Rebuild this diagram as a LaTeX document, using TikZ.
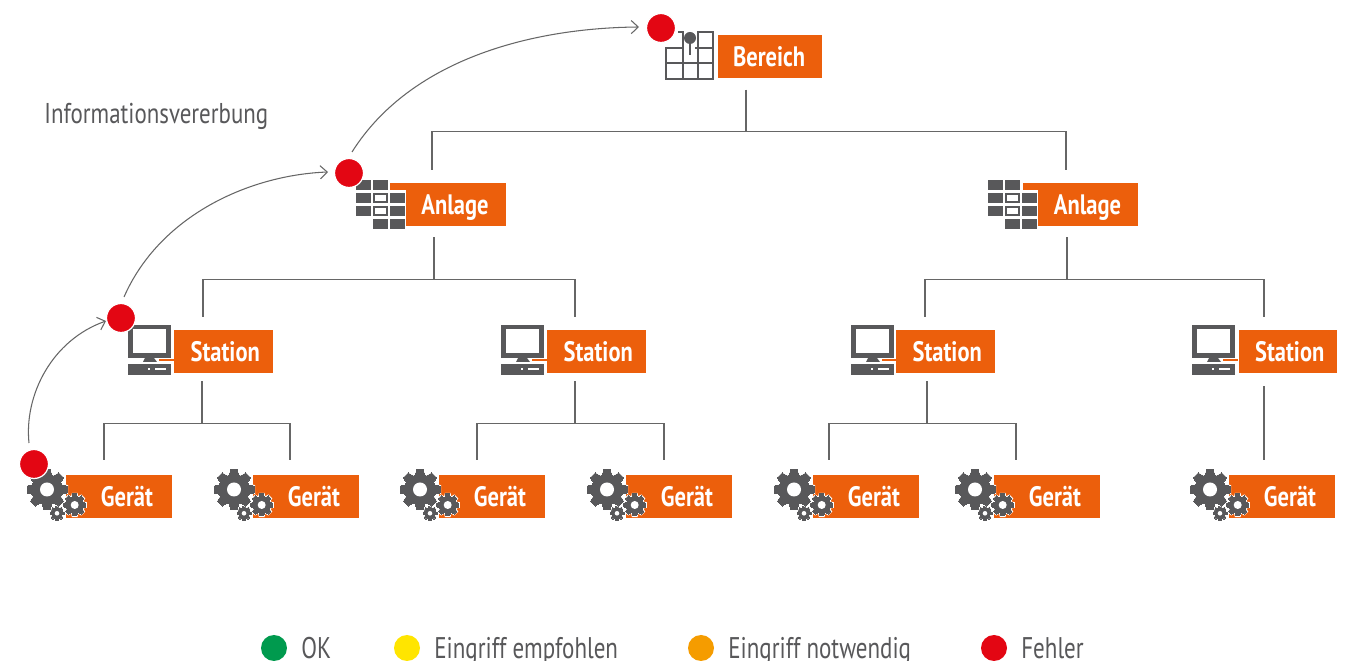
\documentclass[tikz,border=0pt]{standalone}
\usepackage{fontspec}
\usepackage{tikz}
\usetikzlibrary{arrows.meta}
\setmainfont[FakeStretch=0.8]{PT Sans}
\newfontfamily\legendfont[FakeStretch=0.77]{PT Sans}
\definecolor{boxorange}{HTML}{EC5F0C}
\definecolor{icongray}{HTML}{58585A}
\definecolor{linegray}{HTML}{666666}
\definecolor{dotred}{HTML}{E30613}
\definecolor{dotgreen}{HTML}{009A4E}
\definecolor{dotyellow}{HTML}{FFE500}
\definecolor{dotorange}{HTML}{F59C00}
% one gear: centre, outer radius, hole radius, wheel colour
\newcommand{\gearshape}[2]{
\foreach \a in {0,45,...,315}
  \filldraw[rotate=\a+22.5+67.5] ({0.7*#2},{-0.24*#2}) -- (#2,{-0.17*#2}) -- (#2,{0.17*#2}) -- ({0.7*#2},{0.24*#2}) -- cycle;
\filldraw (#1) circle ({0.76*#2});
}
\newcommand{\gearwheel}[3]{
\begin{scope}[shift={(#1)}]
\begin{scope}[white,line width=1.3pt]
\gearshape{0,0}{#2}
\end{scope}
\begin{scope}[icongray,line width=0pt]
\gearshape{0,0}{#2}
\end{scope}
\fill[white] (0,0) circle (#3);
\end{scope}
}
\tikzset{
  box/.style={fill=boxorange,text=white,font=\bfseries\fontsize{16}{18}\selectfont,minimum height=0.86cm,inner sep=0pt,text height=11.2pt,text depth=0pt},
  reddot/.style={circle,fill=dotred,draw=white,line width=0.7pt,minimum size=0.58cm,inner sep=0pt},
  legdot/.style={circle,minimum size=0.52cm,inner sep=0pt},
  headtext/.style={anchor=base west,text=icongray,inner sep=0pt,font=\fontsize{16.3}{18}\selectfont},
  legtext/.style={anchor=base west,text=icongray,inner sep=0pt,font=\legendfont\fontsize{17}{18}\selectfont},
  tree/.style={linegray,line width=0.7pt},
  flow/.style={linegray,line width=0.6pt,-{Straight Barb[length=4pt,width=7.5pt]}},
  geraeticon/.pic={
    \gearwheel{-9,38.3}{7}{2.3}
    \gearwheel{8.7,30}{11}{4}
    \gearwheel{-19,14.5}{20}{7}
  },
  stationicon/.pic={
    \fill[boxorange] (31,34.5) rectangle (46,36.5);
    \fill[icongray] (0,0) rectangle (43,33);
    \fill[white] (5,4) rectangle (38,28);
    \fill[icongray] (15,37) -- (17,33) -- (26,33) -- (29,37) -- cycle;
    \fill[icongray] (0,39) rectangle (43,50);
    \fill[white] (19.5,43.5) rectangle (21.5,45.5);
    \fill[white] (27,43.5) rectangle (38,45.5);
  },
  anlageicon/.pic={
    \fill[white] (34,10) rectangle (50,46);
    \foreach \x/\y in {0/0,17/0,0/13,34/13,0/26,34/26,17/39,34/39}
      \fill[icongray] (\x,\y) rectangle ++(14.5,10);
    \foreach \y in {13,26}
      \draw[icongray,line width=1pt] (17.7,\y+0.7) rectangle ++(13.2,8.6);
  },
  bereichicon/.pic={
    \draw[icongray,line width=0.9pt] (12,0) -- (17,0) -- (17,16) -- (0,16) -- (0,47) -- (47,47) -- (47,0) -- (32,0) -- (32,47);
    \draw[icongray,line width=0.9pt] (29,16) -- (47,16);
    \draw[icongray,line width=0.9pt] (17,16) -- (17,47);
    \draw[icongray,line width=0.9pt] (0,31) -- (47,31);
    \draw[icongray,line width=1.1pt] (24,6) -- (24,23);
    \fill[icongray] (24,6) circle (6);
  }
}
\begin{document}
\begin{tikzpicture}[x=0.02cm,y=-0.02cm]
\clip (0,0) rectangle (1367,661);
\fill[white] (0,0) rectangle (1367,661);
% top
\node[box,minimum width=2.08cm] (bereich) at (770,57) {\hspace*{-1pt}Bereich};
% second row
\node[box,minimum width=2.32cm] (anlageL) at (448,204.5) {\hspace*{8pt}Anlage};
\node[box,minimum width=2.30cm] (anlageR) at (1080.5,204.5) {\hspace*{8pt}Anlage};
% third row
\node[box,minimum width=1.98cm] (stationA) at (223.5,351.5) {\hspace*{2pt}Station};
\node[box,minimum width=1.98cm] (stationB) at (596.5,351.5) {\hspace*{2pt}Station};
\node[box,minimum width=1.98cm] (stationC) at (945.5,351.5) {\hspace*{2pt}Station};
\node[box,minimum width=1.96cm] (stationD) at (1288,351.5) {\hspace*{2pt}Station};
% fourth row
\node[box,minimum width=2.12cm] (geraetA) at (119,496.5) {\hspace*{9pt}Gerät};
\node[box,minimum width=2.12cm] (geraetB) at (306,496.5) {\hspace*{9pt}Gerät};
\node[box,minimum width=2.12cm] (geraetC) at (492,496.5) {\hspace*{9pt}Gerät};
\node[box,minimum width=2.12cm] (geraetD) at (679,496.5) {\hspace*{9pt}Gerät};
\node[box,minimum width=2.12cm] (geraetE) at (866,496.5) {\hspace*{9pt}Gerät};
\node[box,minimum width=2.12cm] (geraetF) at (1047,496.5) {\hspace*{9pt}Gerät};
\node[box,minimum width=2.12cm] (geraetG) at (1282,496.5) {\hspace*{9pt}Gerät};
% icons
\pic at (666,32) {bereichicon};
\pic at (356,180) {anlageicon};
\pic at (988,180) {anlageicon};
\pic at (128,325) {stationicon};
\pic at (501,325) {stationicon};
\pic at (851,325) {stationicon};
\pic at (1192,325) {stationicon};
\pic at (66,475) {geraeticon};
\pic at (253,475) {geraeticon};
\pic at (439,475) {geraeticon};
\pic at (626,475) {geraeticon};
\pic at (813,475) {geraeticon};
\pic at (994,475) {geraeticon};
\pic at (1229,475) {geraeticon};
% tree
\draw[tree] ([shift={(-24,11)}]bereich.south) -- ++(0,42) -| ([shift={(-16,-13)}]anlageL.north);
\draw[tree] ([shift={(-24,11)}]bereich.south) -- ++(0,42) -| ([shift={(-14.5,-13)}]anlageR.north);
\draw[tree] ([shift={(-14,11)}]anlageL.south) -- ++(0,42) -| ([shift={(-20.5,-13)}]stationA.north);
\draw[tree] ([shift={(-14,11)}]anlageL.south) -- ++(0,42) -| ([shift={(-21.5,-13)}]stationB.north);
\draw[tree] ([shift={(-13.5,11)}]anlageR.south) -- ++(0,42) -| ([shift={(-20.5,-13)}]stationC.north);
\draw[tree] ([shift={(-13.5,11)}]anlageR.south) -- ++(0,42) -| ([shift={(-24,-13)}]stationD.north);
\draw[tree] ([shift={(-21.5,8)}]stationA.south) -- ++(0,42) -| ([shift={(-15,-15)}]geraetA.north);
\draw[tree] ([shift={(-21.5,8)}]stationA.south) -- ++(0,42) -| ([shift={(-16,-15)}]geraetB.north);
\draw[tree] ([shift={(-21.5,8)}]stationB.south) -- ++(0,42) -| ([shift={(-15,-15)}]geraetC.north);
\draw[tree] ([shift={(-21.5,8)}]stationB.south) -- ++(0,42) -| ([shift={(-15,-15)}]geraetD.north);
\draw[tree] ([shift={(-18.5,8)}]stationC.south) -- ++(0,42) -| ([shift={(-37,-15)}]geraetE.north);
\draw[tree] ([shift={(-18.5,8)}]stationC.south) -- ++(0,42) -| ([shift={(-31,-15)}]geraetF.north);
\draw[tree] ([shift={(-24,13)}]stationD.south) -- ([shift={(-18,-15)}]geraetG.north);
% red dots and inheritance
\node[reddot] (dotBereich) at (661,28) {};
\node[reddot] (dotAnlage) at (349,173) {};
\node[reddot] (dotStation) at (121,318) {};
\node[reddot] (dotGeraet) at (34,464) {};
\draw[flow] ([shift={(-5,-21)}]dotGeraet.center) .. controls (24,395) and (52,340) .. ([shift={(-15,3)}]dotStation.center);
\draw[flow] ([shift={(3,-21)}]dotStation.center) .. controls (160,215) and (250,175) .. ([shift={(-21,-1)}]dotAnlage.center);
\draw[flow] ([shift={(3,-21)}]dotAnlage.center) .. controls (410,60) and (530,28) .. ([shift={(-22,-1)}]dotBereich.center);
\node[headtext] (vererbung) at (44,124) {Informationsvererbung};
% legend
\node[legdot,fill=dotgreen] (legOK) at (274,648) {};
\node[legdot,fill=dotyellow] (legEmpf) at (407,648) {};
\node[legdot,fill=dotorange] (legNot) at (701,648) {};
\node[legdot,fill=dotred] (legFehler) at (994,648) {};
\node[legtext] (txtOK) at (301,658.5) {OK};
\node[legtext] (txtEmpf) at (434,658.5) {Eingriff empfohlen};
\node[legtext] (txtNot) at (728,658.5) {Eingriff notwendig};
\node[legtext] (txtFehler) at (1021,658.5) {Fehler};
\end{tikzpicture}
\end{document}
